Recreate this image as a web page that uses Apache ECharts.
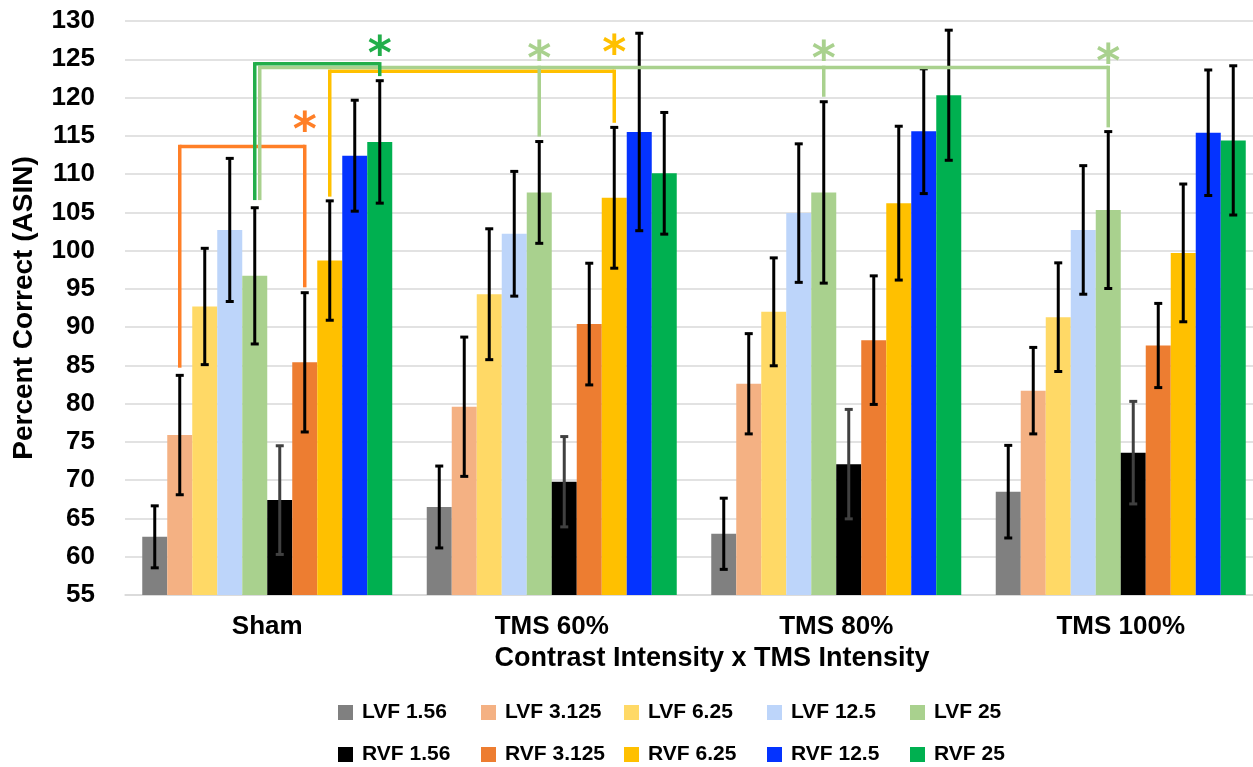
<!DOCTYPE html>
<html><head><meta charset="utf-8">
<script src="https://cdn.jsdelivr.net/npm/echarts@6/dist/echarts.min.js"></script>
<style>html,body{margin:0;padding:0;background:#fff;overflow:hidden}#c{width:1263px;height:767px}</style>
</head><body><div id="c"></div>
<script>
// ---- data ----
const categories = ['Sham', 'TMS 60%', 'TMS 80%', 'TMS 100%'];
const seriesNames = ['LVF 1.56', 'LVF 3.125', 'LVF 6.25', 'LVF 12.5', 'LVF 25',
                     'RVF 1.56', 'RVF 3.125', 'RVF 6.25', 'RVF 12.5', 'RVF 25'];
const yMin = 55, yMax = 130, yStep = 5;

const lvf156 = [62.6, 66.5, 63.0, 68.5];
const lvf156Err = [4.05, 5.35, 4.65, 6.05];
const lvf3125 = [75.9, 79.6, 82.6, 81.7];
const lvf3125Err = [7.8, 9.1, 6.55, 5.65];
const lvf625 = [92.7, 94.3, 92.0, 91.3];
const lvf625Err = [7.6, 8.55, 7.05, 7.1];
const lvf125 = [102.7, 102.2, 104.9, 102.7];
const lvf125Err = [9.35, 8.15, 9.05, 8.4];
const lvf25 = [96.7, 107.6, 107.6, 105.3];
const lvf25Err = [8.9, 6.65, 11.85, 10.25];
const rvf156 = [67.4, 69.8, 72.1, 73.6];
const rvf156Err = [7.1, 5.9, 7.15, 6.7];
const rvf3125 = [85.4, 90.4, 88.3, 87.6];
const rvf3125Err = [9.1, 7.95, 8.4, 5.5];
const rvf625 = [98.7, 106.9, 106.2, 99.7];
const rvf625Err = [7.8, 9.2, 10.05, 9.0];
const rvf125 = [112.4, 115.5, 115.6, 115.4];
const rvf125Err = [7.25, 12.9, 8.15, 8.2];
const rvf25 = [114.2, 110.1, 120.3, 114.4];
const rvf25Err = [8.0, 7.95, 8.5, 9.75];

// significance brackets: legs = [categoryIndex, barIndex, bottomValue]; stars = [categoryIndex, barIndex, value]
const bracketOrange = { top: 113.6, legs: [[0, 1, 84.7], [0, 6, 95.2]], stars: [[0, 6, 116.7]] };
const bracketGold = { top: 123.43, legs: [[0, 7, 107.05], [1, 7, 116.7]], stars: [[1, 7, 126.7]] };
const bracketLightGreen = { top: 123.93, legs: [[0, 4, 106.6], [1, 4, 114.9], [2, 4, 120.1], [3, 4, 116.1]],
                            stars: [[1, 4, 125.9], [2, 4, 125.9], [3, 4, 125.6]] };
const bracketGreen = { top: 124.4, legs: [[0, 4, 106.6], [0, 9, 122.8]], stars: [[0, 9, 126.6]] };

// ---- styles ----
const FONT = "'Liberation Sans', Arial, sans-serif";
const colors = ['#808080', '#F4B183', '#FFD966', '#BDD5FA', '#A9D18E',
                '#000000', '#ED7D31', '#FFC000', '#0433FF', '#00B050'];
const BAR_W = 25;
const bracketStyles = [
  { b: bracketOrange, color: '#FF7F27', dx0: 0 },
  { b: bracketGold, color: '#FFC000', dx0: 0 },
  { b: bracketLightGreen, color: '#A9D18E', dx0: 5 },
  { b: bracketGreen, color: '#22AE4A', dx0: 0 }
];

const values = [lvf156, lvf3125, lvf625, lvf125, lvf25, rvf156, rvf3125, rvf625, rvf125, rvf25];
const errs = [lvf156Err, lvf3125Err, lvf625Err, lvf125Err, lvf25Err, rvf156Err, rvf3125Err, rvf625Err, rvf125Err, rvf25Err];

const errData = [];
values.forEach((vals, s) => vals.forEach((v, c) => errData.push([c, s, v - errs[s][c], v + errs[s][c]])));

const barSeries = seriesNames.map((name, i) => ({
  name, type: 'bar', data: values[i], barWidth: BAR_W, barGap: '0%',
  itemStyle: { color: colors[i] }, silent: true, z: 2
}));

const chart = echarts.init(document.getElementById('c'), null, { renderer: 'canvas' });
chart.setOption({
  animation: false,
  backgroundColor: '#fff',
  grid: { left: 125, top: 21, right: 0, height: 574, containLabel: false },
  legend: {
    data: seriesNames, left: 333, top: 695, width: 760,
    itemWidth: 15, itemHeight: 15, itemGap: 17, icon: 'rect',
    selectedMode: false,
    textStyle: { fontFamily: FONT, fontWeight: 'bold', fontSize: 21, color: '#000',
                 width: 102, lineHeight: 25, padding: [0, 0, 0, 4] }
  },
  xAxis: {
    type: 'category', data: categories,
    axisLine: { lineStyle: { color: '#d9d9d9', width: 1.5 } },
    axisTick: { show: false },
    axisLabel: { fontFamily: FONT, fontWeight: 'bold', fontSize: 26, color: '#000', margin: 19 },
    name: 'Contrast Intensity x TMS Intensity', nameLocation: 'middle', nameGap: 50,
    nameTextStyle: { fontFamily: FONT, fontWeight: 'bold', fontSize: 27, color: '#000', padding: [0, 0, 0, 36] }
  },
  yAxis: {
    type: 'value', min: yMin, max: yMax, interval: yStep,
    axisLine: { show: false }, axisTick: { show: false },
    splitLine: { lineStyle: { color: '#d9d9d9', width: 1.5 } },
    axisLabel: { fontFamily: FONT, fontWeight: 'bold', fontSize: 26, color: '#000', margin: 30 },
    name: 'Percent Correct (ASIN)', nameLocation: 'middle', nameGap: 87,
    nameTextStyle: { fontFamily: FONT, fontWeight: 'bold', fontSize: 28, color: '#000' }
  },
  series: barSeries.concat([
    {
      type: 'custom', name: 'err', data: errData, z: 3, silent: true, clip: false,
      encode: { x: 0, y: [2, 3] },
      renderItem: function (params, api) {
        const c = api.value(0), s = api.value(1);
        const lo = api.coord([c, api.value(2)]);
        const hi = api.coord([c, api.value(3)]);
        const x = lo[0] + (s - 4.5) * BAR_W;
        const col = s === 5 ? '#404040' : '#000';
        const cap = 4;
        const st = { stroke: col, lineWidth: 3 };
        return { type: 'group', children: [
          { type: 'line', shape: { x1: x, y1: hi[1], x2: x, y2: lo[1] }, style: st },
          { type: 'line', shape: { x1: x - cap, y1: hi[1], x2: x + cap, y2: hi[1] }, style: st },
          { type: 'line', shape: { x1: x - cap, y1: lo[1], x2: x + cap, y2: lo[1] }, style: st }
        ] };
      }
    },
    {
      type: 'custom', name: 'sig', data: [[0, 100]], z: 4, silent: true, clip: false,
      renderItem: function (params, api) {
        const children = [];
        const px = (c, b) => api.coord([c, yMin])[0] + (b - 4.5) * BAR_W;
        const py = v => api.coord([0, v])[1];
        bracketStyles.forEach(({ b, color, dx0 }) => {
          const topY = py(b.top);
          const xs = b.legs.map((l, i) => px(l[0], l[1]) + (i === 0 ? dx0 : 0));
          children.push({ type: 'line', shape: { x1: xs[0], y1: topY, x2: xs[xs.length - 1], y2: topY },
            style: { stroke: color, lineWidth: 3.5 } });
          b.legs.forEach((l, i) => {
            children.push({ type: 'line', shape: { x1: xs[i], y1: topY - 1.75, x2: xs[i], y2: py(l[2]) },
              style: { stroke: color, lineWidth: 3.5 } });
          });
          b.stars.forEach(s => {
            children.push({ type: 'text', x: px(s[0], s[1]), y: py(s[2]) + 10,
              style: { text: '*', fill: color, font: "bold 46px 'DejaVu Sans', sans-serif",
                       textAlign: 'center', textVerticalAlign: 'middle' } });
          });
        });
        return { type: 'group', children };
      }
    }
  ])
});
</script></body></html>
